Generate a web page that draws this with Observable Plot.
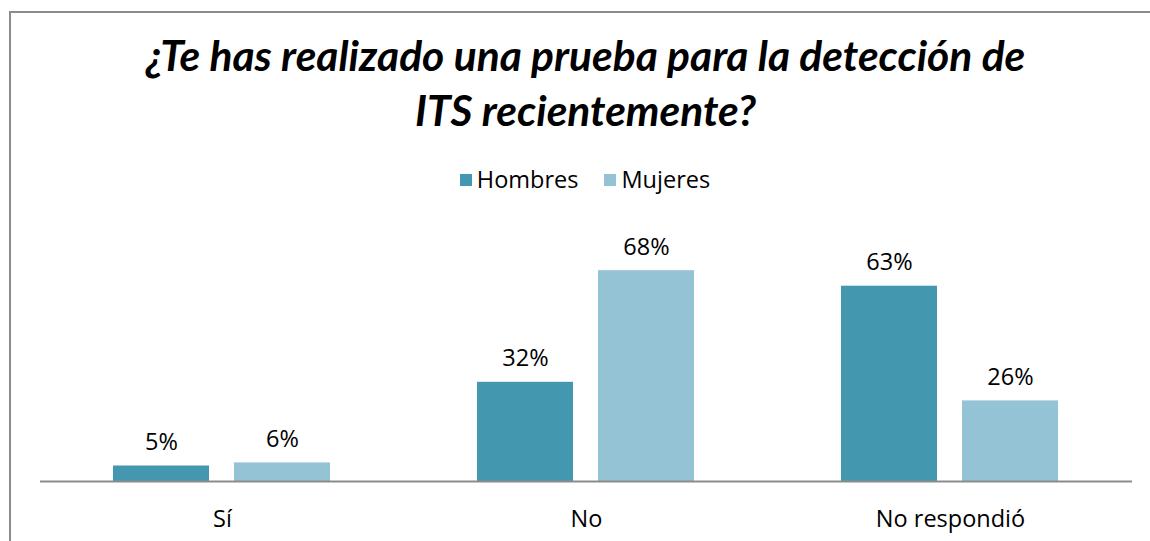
<!DOCTYPE html>
<html>
<head>
<meta charset="utf-8">
<script src="https://cdn.jsdelivr.net/npm/d3@7"></script>
<script src="https://cdn.jsdelivr.net/npm/@observablehq/plot@0.6"></script>
<style>
  html, body { margin: 0; padding: 0; background: #fff; }
  body { width: 1150px; height: 541px; position: relative; overflow: hidden; font-family: "Open Sans", sans-serif; }
  #frame { position: absolute; left: 9px; top: 11px; width: 1160px; height: 560px; border-left: 2px solid #8c8c8c; border-top: 2px solid #8c8c8c; box-sizing: border-box; }
  #title { position: absolute; left: 39px; width: 1093px; top: 27px; text-align: center; font-family: Lato, sans-serif; font-weight: bold; font-style: italic; font-size: 42.5px; line-height: 55px; color: #000; }
  #legend { position: absolute; left: 0; width: 1170px; top: 163px; text-align: center; font-size: 23.5px; color: #000; }
  #legend span.item { display: inline-block; margin: 0 13px; }
  #legend span.sw { display: inline-block; width: 12px; height: 12px; margin-right: 5px; vertical-align: 2px; }
  #chart { position: absolute; left: 0; top: 0; }
</style>
</head>
<body>
<div id="frame"></div>
<div id="title"></div>
<div id="legend"></div>
<div id="chart"></div>
<script>
const titleLines = ["¿Te has realizado una prueba para la detección de", "ITS recientemente?"];
const categories = ["Sí", "No", "No respondió"];
const series = ["Hombres", "Mujeres"];
const hombres = [5, 32, 63];
const mujeres = [6, 68, 26];
const colors = ["#4398B0", "#93C3D5"];

const data = categories.flatMap((c, i) => [
  {cat: c, serie: series[0], value: hombres[i]},
  {cat: c, serie: series[1], value: mujeres[i]}
]);

document.getElementById("title").innerHTML = titleLines.join("<br>");
const legend = document.getElementById("legend");
series.forEach((s, i) => {
  const item = document.createElement("span");
  item.className = "item";
  const sw = document.createElement("span");
  sw.className = "sw";
  sw.style.background = colors[i];
  item.appendChild(sw);
  item.appendChild(document.createTextNode(s));
  legend.appendChild(item);
});

const chart = Plot.plot({
  width: 1150,
  height: 541,
  marginLeft: 39,
  marginRight: 18,
  marginTop: 233,
  marginBottom: 60,
  fx: {domain: categories, padding: 0, label: null},
  x: {domain: series, paddingInner: 0.205, paddingOuter: 0.6, axis: null},
  y: {domain: [0, 80], axis: null},
  color: {domain: series, range: colors},
  style: {fontFamily: "'Open Sans', sans-serif", background: "transparent", color: "#000"},
  marks: [
    Plot.barY(data, {fx: "cat", x: "serie", y: "value", fill: "serie"}),
    Plot.ruleY([0], {stroke: "#8c8c8c", strokeWidth: 2}),
    Plot.text(data, {fx: "cat", x: "serie", y: "value", text: d => d.value + "%", lineAnchor: "bottom", dy: -16, fontSize: 23.5, fill: "#000"}),
    Plot.axisFx({anchor: "bottom", tickSize: 0, tickPadding: 29, fontSize: 23.5, label: null, fill: "#000"})
  ]
});
document.getElementById("chart").appendChild(chart);
</script>
</body>
</html>
